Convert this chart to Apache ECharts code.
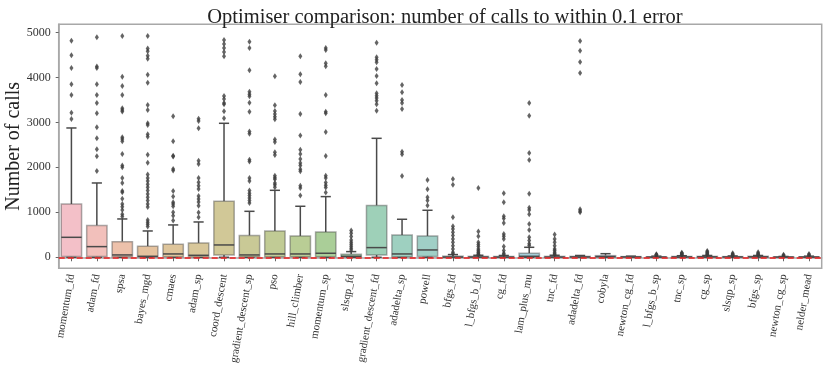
<!DOCTYPE html>
<html>
<head>
<meta charset="utf-8">
<script src="https://cdn.jsdelivr.net/npm/echarts@6/dist/echarts.min.js"></script>
<style>
  html, body { margin: 0; padding: 0; background: #fff; }
  #chart { width: 830px; height: 369px; }
</style>
</head>
<body>
<div id="chart"></div>
<script>
// optimisers, in plot order
const categories = [
  "momentum_fd", "adam_fd", "spsa", "bayes_mgd", "cmaes", "adam_sp", "coord_descent",
  "gradient_descent_sp", "pso", "hill_climber", "momentum_sp", "slsqp_fd",
  "gradient_descent_fd", "adadelta_sp", "powell", "bfgs_fd", "l_bfgs_b_fd", "cg_fd",
  "lam_plus_mu", "tnc_fd", "adadelta_fd", "cobyla", "newton_cg_fd", "l_bfgs_b_sp",
  "tnc_sp", "cg_sp", "slsqp_sp", "bfgs_sp", "newton_cg_sp", "nelder_mead"
];

// box statistics (number of calls)
const lowWhisker = [0, 0, 0, 0, 0, 0, 0, 0, 0, 0, 0, 0, 0, 0, 0, 0, 0, 0, 0, 0, 0, 0, 0, 0, 0, 0, 0, 0, 0, 0];
const q1 = [15, 15, 10, 5, 10, 8, 52, 10, 10, 10, 10, 5, 52, 10, 20, 0, 0, 0, 5, 0, 2, 5, 2, 2, 3, 3, 3, 3, 2, 2];
const median = [444, 237, 52, 22, 74, 44, 274, 52, 74, 74, 89, 22, 215, 74, 163, 5, 5, 4, 22, 5, 8, 15, 8, 5, 8, 10, 8, 10, 5, 6];
const q3 = [1185, 704, 348, 245, 289, 319, 1245, 482, 585, 474, 563, 67, 1149, 496, 474, 25, 20, 18, 89, 20, 20, 36, 15, 12, 18, 20, 15, 22, 10, 12];
const highWhisker = [2875, 1652, 852, 585, 719, 785, 2979, 1022, 1489, 1134, 1349, 126, 2645, 845, 1045, 60, 45, 40, 222, 45, 40, 80, 25, 25, 35, 40, 30, 40, 18, 25];

const outliers = [
  [4815, 4490, 4210, 3845, 3610, 3215, 3075],
  [4890, 4240, 4210, 3845, 3610, 3430, 3200, 2890, 2645, 2400, 2245, 1920],
  [4920, 4016, 3810, 3610, 3312, 3275, 3240, 2668, 2630, 2580, 2297, 2038, 2000, 1764, 1652, 1475, 1445, 1304, 1185, 1126, 1052, 956, 904],
  [4920, 4640, 4580, 4480, 4416, 4060, 3880, 3386, 3275, 2979, 2942, 2734, 2682, 2282, 2104, 1838, 1764, 1697, 1623, 1556, 1482, 1408, 1334, 1260, 1185, 1119, 830, 778, 734, 682],
  [3134, 2579, 2260, 2238, 1964, 1927, 1475, 1349, 1223, 1185, 1134, 1000, 926, 815],
  [3082, 3030, 2868, 2149, 2075, 1764, 1667, 1593, 1519, 1363, 1297, 1230, 1148, 993, 889],
  [4830, 4742, 4653, 4564, 4468, 3586, 3520, 3431, 3401, 3245, 3090],
  [4794, 4653, 4157, 3683, 3623, 3579, 3438, 3238, 2794, 2749, 2171, 2127, 1764, 1697, 1482, 1423, 1371, 1319, 1260, 1208],
  [4024, 3379, 3253, 3186, 3127, 3067, 2616, 2564, 2334, 2275, 1815, 1771, 1734, 1652, 1615, 1556],
  [4468, 4068, 3898, 3186, 2705, 2393, 2297, 2186, 2097, 2038, 1956, 1912, 1593, 1541, 1371],
  [4653, 4609, 4313, 4246, 3608, 3238, 3201, 2786, 2253, 1815, 1764, 1660, 1600, 1549, 1438],
  [593, 534, 460, 385, 333, 289, 245, 200, 163],
  [4772, 4446, 4394, 4335, 4187, 4031, 3868, 3646, 3594, 3542, 3483, 3401, 3260],
  [3831, 3668, 3498, 3431, 3297, 2349, 2290, 1808],
  [1719, 1512, 1334, 1260, 1149],
  [1741, 1615, 889, 689, 630, 556, 482, 408, 333, 259, 185, 111, 80],
  [1541, 571, 467, 333, 282, 237, 185, 148, 120, 95, 70, 55],
  [1423, 1223, 911, 860, 763, 519, 467, 408, 237, 148, 89, 60],
  [3431, 3149, 2319, 2164, 1415, 1104, 1052, 956, 741, 608, 445, 371, 300, 260],
  [504, 408, 333, 259, 185, 148, 111, 80, 60],
  [4810, 4590, 4340, 4095, 1070, 1030, 1000],
  [],
  [],
  [35, 45, 55, 67],
  [45, 60, 75, 90, 102],
  [50, 65, 80, 100, 120, 140],
  [40, 55, 70, 89],
  [50, 65, 85, 111],
  [25, 40, 55],
  [35, 50, 73]
];

const yTicks = [0, 1000, 2000, 3000, 4000, 5000];

// husl palette, desaturated and faded
const palette = [
  "#f3c0c8", "#f2c0bb", "#edc1ab", "#e5c29e", "#dec59b", "#d8c79a", "#d1c897", "#c9c996",
  "#c1cb95", "#b9cd95", "#aace98", "#a2cfa8", "#9ed0b8", "#9ed0c0", "#a0cfc6", "#a2cfcb",
  "#a3cfd0", "#a4cfd5", "#a5cfd9", "#aecfe0", "#b6d0e8", "#bfd0f1", "#cccbf1", "#d8c7f2",
  "#e3c4f2", "#e9c1ec", "#edbee7", "#f1bbe2", "#f2bcd9", "#f2bed0"
];

const FONT = "'Liberation Serif', 'DejaVu Serif', serif";
const chart = echarts.init(document.getElementById("chart"));

const boxData = categories.map((c, i) => [i, lowWhisker[i], q1[i], median[i], q3[i], highWhisker[i]]);
const flierData = [];
outliers.forEach((vals, i) => vals.forEach((v) => flierData.push([i, v])));

function renderBox(params, api) {
  const idx = api.value(0);
  const w = api.size([1, 0])[0] * 0.8;
  const cx = api.coord([idx, 0])[0];
  const pLo = api.coord([idx, api.value(1)])[1];
  const pQ1 = api.coord([idx, api.value(2)])[1];
  const pMed = api.coord([idx, api.value(3)])[1];
  const pQ3 = api.coord([idx, api.value(4)])[1];
  const pHi = api.coord([idx, api.value(5)])[1];
  const line = { stroke: "#4a4a4a", lineWidth: 1.5 };
  const capW = w * 0.25;
  return {
    type: "group",
    children: [
      { type: "line", shape: { x1: cx, y1: pQ3, x2: cx, y2: pHi }, style: line },
      { type: "line", shape: { x1: cx, y1: pQ1, x2: cx, y2: pLo }, style: line },
      { type: "line", shape: { x1: cx - capW, y1: pHi, x2: cx + capW, y2: pHi }, style: line },
      { type: "line", shape: { x1: cx - capW, y1: pLo, x2: cx + capW, y2: pLo }, style: line },
      {
        type: "rect",
        shape: { x: cx - w / 2, y: pQ3, width: w, height: Math.max(pQ1 - pQ3, 0.5) },
        style: { fill: palette[params.dataIndex], stroke: "rgba(74,74,74,0.45)", lineWidth: 1.5 }
      },
      { type: "line", shape: { x1: cx - w / 2, y1: pMed, x2: cx + w / 2, y2: pMed }, style: line }
    ]
  };
}

const option = {
  animation: false,
  backgroundColor: "#fff",
  title: {
    text: "Optimiser comparison: number of calls to within 0.1 error",
    left: 440,
    top: 2,
    textAlign: "center",
    textStyle: { fontFamily: FONT, fontSize: 20.5, fontWeight: "normal", color: "#222" }
  },
  grid: {
    left: 58.7,
    right: 8.3,
    top: 24.3,
    bottom: 100.7,
    outerBoundsMode: "none",
    show: true,
    borderColor: "#a8a8a8",
    borderWidth: 1.5
  },
  xAxis: {
    type: "category",
    data: categories,
    boundaryGap: true,
    axisLine: { show: true, lineStyle: { color: "#a8a8a8", width: 1.5 } },
    axisTick: { show: true, alignWithLabel: true, length: 4, lineStyle: { color: "#666" } },
    axisLabel: {
      interval: 0,
      rotate: 80,
      margin: 6,
      fontFamily: FONT,
      fontSize: 11,
      color: "#333"
    },
    splitLine: { show: false }
  },
  yAxis: {
    type: "value",
    min: -245,
    max: 5180,
    splitNumber: 5,
    name: "Number of calls",
    nameLocation: "middle",
    nameGap: 35,
    nameMoveOverlap: false,
    nameTextStyle: { fontFamily: FONT, fontSize: 20, color: "#222" },
    axisLine: { show: true, lineStyle: { color: "#a8a8a8", width: 1.5 } },
    axisTick: { show: true, length: 3, lineStyle: { color: "#666" } },
    axisLabel: {
      showMinLabel: false,
      showMaxLabel: false,
      fontFamily: FONT,
      fontSize: 12,
      color: "#333",
      margin: 8,
      formatter: (v) => (yTicks.indexOf(v) >= 0 ? String(v) : "")
    },
    splitLine: { show: false }
  },
  series: [
    {
      type: "custom",
      name: "boxes",
      renderItem: renderBox,
      data: boxData,
      encode: { x: 0, y: [1, 2, 3, 4, 5] },
      z: 2
    },
    {
      type: "scatter",
      name: "outliers",
      data: flierData,
      symbol: "diamond",
      symbolSize: [4, 6],
      itemStyle: { color: "#3d3d3d" },
      z: 3,
      markLine: {
        silent: true,
        symbol: "none",
        label: { show: false },
        lineStyle: { color: "rgba(235,40,40,0.8)", type: [6, 3], width: 2 },
        data: [{ yAxis: 0 }]
      }
    }
  ]
};

chart.setOption(option);
</script>
</body>
</html>
